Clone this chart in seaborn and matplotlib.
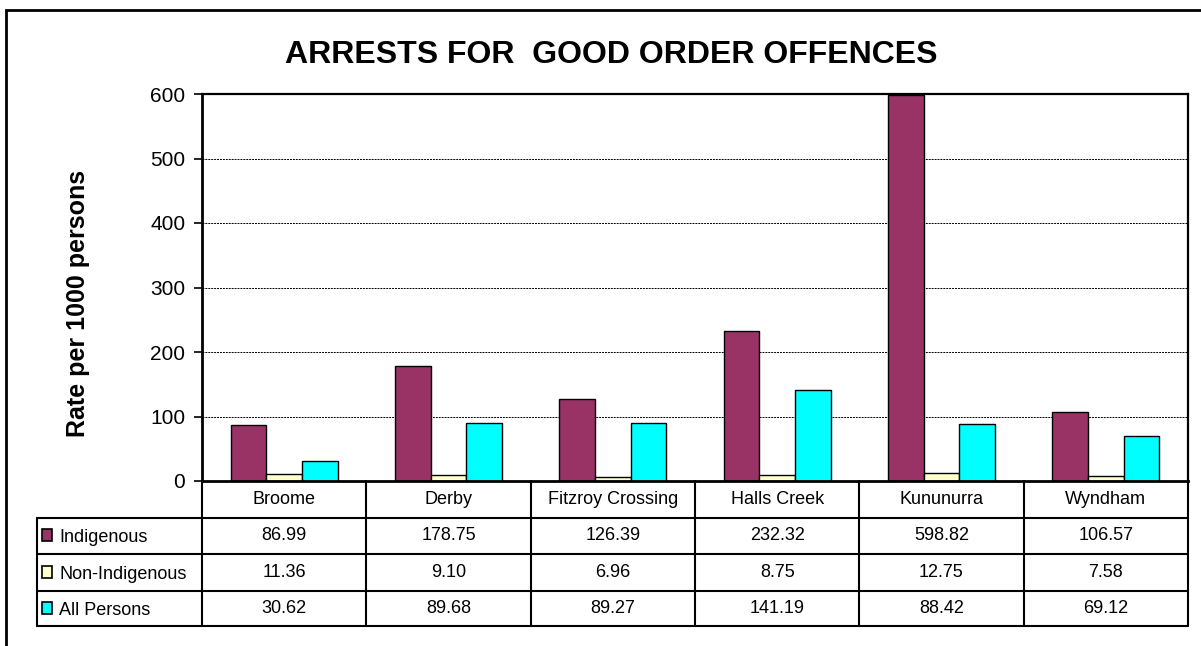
import pandas as pd
import seaborn as sns
import matplotlib.pyplot as plt
import matplotlib.transforms as mtransforms
from matplotlib.patches import Rectangle

# chart data
cities = ["Broome", "Derby", "Fitzroy Crossing", "Halls Creek", "Kununurra", "Wyndham"]
groups = ["Indigenous", "Non-Indigenous", "All Persons"]
indigenous = [86.99, 178.75, 126.39, 232.32, 598.82, 106.57]
non_indigenous = [11.36, 9.10, 6.96, 8.75, 12.75, 7.58]
all_persons = [30.62, 89.68, 89.27, 141.19, 88.42, 69.12]
colors = ["#993366", "#FFFFCC", "#00FFFF"]

series = {"Indigenous": indigenous, "Non-Indigenous": non_indigenous, "All Persons": all_persons}
df = pd.DataFrame(
    [(c, g, v) for g in groups for c, v in zip(cities, series[g])],
    columns=["City", "Group", "Rate"],
)

sns.set_style("white")
plt.rcParams["font.family"] = ["Liberation Sans", "DejaVu Sans"]
plt.rcParams.update({"text.color": "black", "axes.labelcolor": "black",
                     "xtick.color": "black", "ytick.color": "black"})

W, H = 1201, 646
fig = plt.figure(figsize=(W / 100, H / 100), dpi=100)

# pixel helpers for layout
def fx(px):
    return px / W

def fy(py):
    return 1 - py / H

ax_l, ax_r, ax_t, ax_b = 202, 1188, 94, 481
ax = fig.add_axes([fx(ax_l), fy(ax_b), fx(ax_r - ax_l), (ax_b - ax_t) / H])

sns.barplot(
    data=df, x="City", y="Rate", hue="Group", hue_order=groups, order=cities,
    palette=colors, width=0.65, edgecolor="black", linewidth=1.0,
    saturation=1, legend=False, ax=ax,
)

ax.set_xlim(-0.5, len(cities) - 0.5)
ax.set_ylim(0, 600)
ax.set_yticks(range(0, 601, 100))
ax.set_xticks([])
ax.set_xlabel("")
ax.set_ylabel("Rate per 1000 persons", fontsize=18, fontweight="bold")
ax.yaxis.set_label_coords((90 - ax_l) / (ax_r - ax_l), 0.46)
ax.tick_params(axis="y", direction="out", length=6, width=1.2, pad=6,
               labelsize=15, left=True, color="black", labelcolor="black")
ax.yaxis.grid(True, linestyle=(0, (2, 1)), color="black", linewidth=0.7)
ax.set_axisbelow(True)
for side in ["left", "bottom"]:
    ax.spines[side].set_linewidth(2)
for side in ["top", "right"]:
    ax.spines[side].set_linewidth(1.6)
for s in ax.spines.values():
    s.set_color("black")
    s.set_visible(True)

# title
fig.text(fx(611), fy(55), "ARRESTS FOR  GOOD ORDER OFFENCES", ha="center", va="center",
         fontsize=23, fontweight="bold")

# data table below the axes
trans = mtransforms.blended_transform_factory(ax.transData, fig.transFigure)
rows_y = [481, 518, 554, 591, 626]
tab_left = 37
lw = 1.5
fs = 13

def hline(x0, x1, py, t):
    fig.add_artist(plt.Line2D([x0, x1], [fy(py), fy(py)], transform=t, color="black", lw=lw))

def vline(x, py0, py1, t):
    fig.add_artist(plt.Line2D([x, x], [fy(py0), fy(py1)], transform=t, color="black", lw=lw))

for py in rows_y[1:]:
    hline(fx(tab_left), fx(ax_r), py, fig.transFigure)
vline(fx(tab_left), rows_y[1], rows_y[-1], fig.transFigure)
for i in range(len(cities) + 1):
    vline(i - 0.5, rows_y[0], rows_y[-1], trans)

for i, c in enumerate(cities):
    ymid = fy((rows_y[0] + rows_y[1]) / 2)
    fig.text(i, ymid, c, transform=trans, ha="center", va="center", fontsize=fs)

for r, g in enumerate(groups):
    ymid = (rows_y[r + 1] + rows_y[r + 2]) / 2
    for i, v in enumerate(series[g]):
        fig.text(i, fy(ymid), f"{v:.2f}", transform=trans, ha="center", va="center",
                 fontsize=fs)
    fig.add_artist(Rectangle((fx(42), fy(ymid + 5)), fx(10), 12 / H, transform=fig.transFigure,
                             facecolor=colors[r], edgecolor="black", lw=1.2))
    fig.text(fx(59), fy(ymid + 2), g, ha="left", va="center", fontsize=fs)

# outer chart border
fig.add_artist(Rectangle((fx(6), fy(700)), fx(1250), 690 / H, transform=fig.transFigure,
                         fill=False, edgecolor="black", lw=2, clip_on=False))

fig.savefig("out.png", dpi=100)
